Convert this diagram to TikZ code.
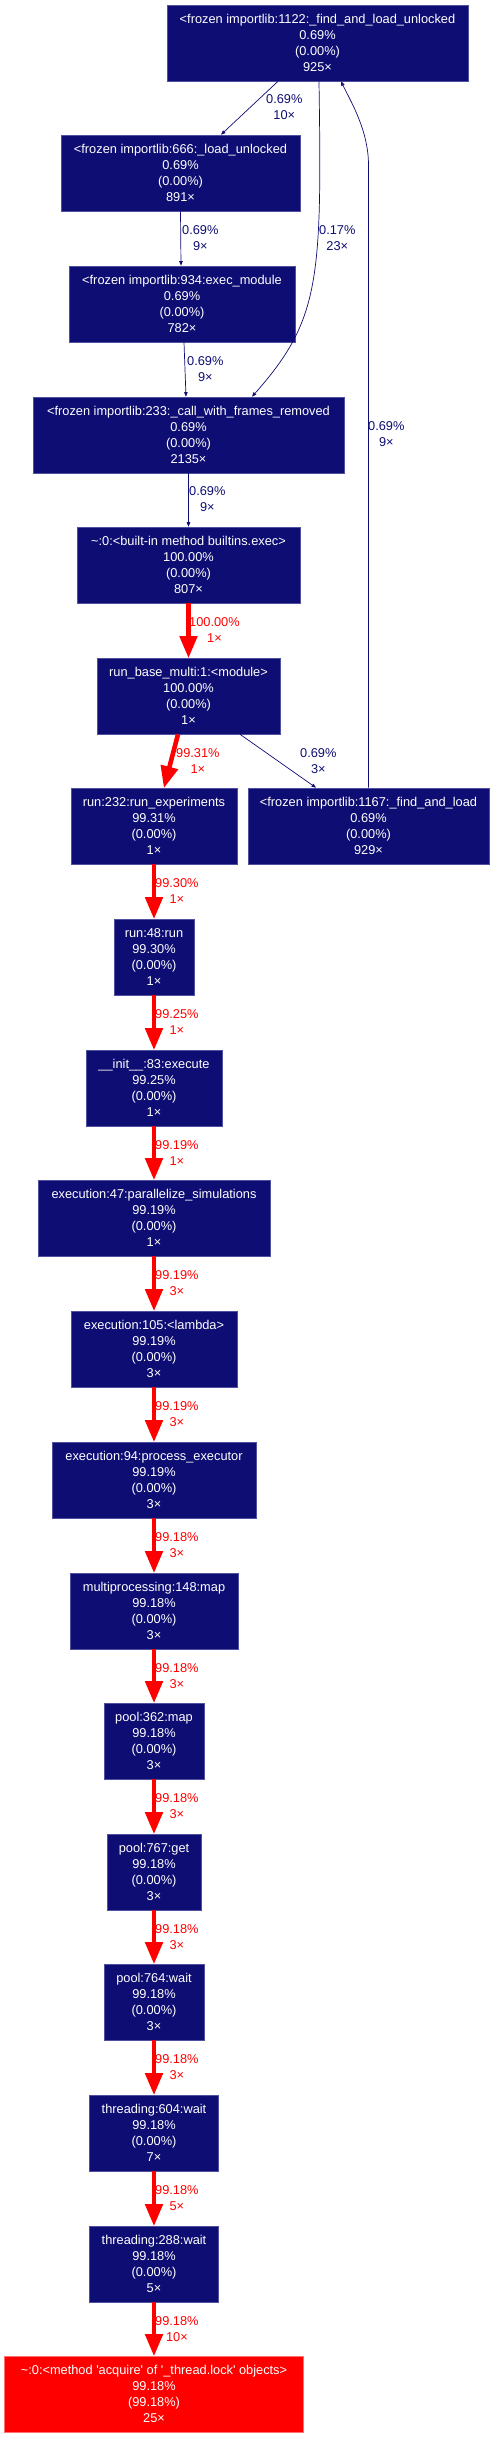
\documentclass[tikz,border=0pt]{standalone}
\usepackage{fontspec}
\setmainfont{Liberation Sans}[Ligatures=TeXOff]
\usetikzlibrary{arrows.meta,calc}
\definecolor{cold}{HTML}{0D0D73}
\definecolor{coldline}{HTML}{5050A0}
\definecolor{hot}{HTML}{FF0000}
\definecolor{hotline}{HTML}{FF7070}
\begin{document}
\begin{tikzpicture}[x=1pt,y=-1pt,
  fn/.style={rectangle, fill=cold, draw=coldline, line width=0.6pt, text=white,
    align=center, inner sep=0pt, minimum height=76pt,
    font=\fontsize{12.8}{16}\selectfont},
  hotfn/.style={fn, fill=hot, draw=hotline},
  coldedge/.style={draw=cold, line width=0.7pt, -{Triangle[length=4.5pt,width=3.5pt]}},
  hotedge/.style={draw=hot, line width=4.6pt, -{Triangle[length=22pt,width=17pt]}, shorten >=-0.5pt},
  lbl/.style={anchor=west, inner sep=0pt, align=center, font=\fontsize{12.8}{16}\selectfont},
  clbl/.style={lbl, text=cold},
  hlbl/.style={lbl, text=hot}]
\useasboundingbox (0,0) rectangle (494,2437);

\node[fn, minimum width=301pt] (n1122) at (317.5,43) {<frozen importlib:1122:\_find\_and\_load\_unlocked\\0.69\%\\(0.00\%)\\925×};
\node[fn, minimum width=239pt] (n666) at (180.5,173) {<frozen importlib:666:\_load\_unlocked\\0.69\%\\(0.00\%)\\891×};
\node[fn, minimum width=226pt] (n934) at (182,304) {<frozen importlib:934:exec\_module\\0.69\%\\(0.00\%)\\782×};
\node[fn, minimum width=311pt] (n233) at (188.5,435) {<frozen importlib:233:\_call\_with\_frames\_removed\\0.69\%\\(0.00\%)\\2135×};
\node[fn, minimum width=223pt] (nexec) at (188.5,565) {\textasciitilde:0:<built-in method builtins.exec>\\100.00\%\\(0.00\%)\\807×};
\node[fn, minimum width=183pt] (nbase) at (188.5,696) {run\_base\_multi:1:<module>\\100.00\%\\(0.00\%)\\1×};
\node[fn, minimum width=166pt] (nrunexp) at (154,826) {run:232:run\_experiments\\99.31\%\\(0.00\%)\\1×};
\node[fn, minimum width=241pt] (n1167) at (368.5,826) {<frozen importlib:1167:\_find\_and\_load\\0.69\%\\(0.00\%)\\929×};
\node[fn, minimum width=80pt] (nrun48) at (154,957) {run:48:run\\99.30\%\\(0.00\%)\\1×};
\node[fn, minimum width=136pt] (ninit) at (154,1088) {\_\_init\_\_:83:execute\\99.25\%\\(0.00\%)\\1×};
\node[fn, minimum width=232pt] (nex47) at (154,1218) {execution:47:parallelize\_simulations\\99.19\%\\(0.00\%)\\1×};
\node[fn, minimum width=166pt] (nlam) at (154,1349) {execution:105:<lambda>\\99.19\%\\(0.00\%)\\3×};
\node[fn, minimum width=204pt] (nex94) at (154,1480) {execution:94:process\_executor\\99.19\%\\(0.00\%)\\3×};
\node[fn, minimum width=168pt] (nmp) at (154,1611) {multiprocessing:148:map\\99.18\%\\(0.00\%)\\3×};
\node[fn, minimum width=100pt] (np362) at (154,1741) {pool:362:map\\99.18\%\\(0.00\%)\\3×};
\node[fn, minimum width=94pt] (np767) at (154,1872) {pool:767:get\\99.18\%\\(0.00\%)\\3×};
\node[fn, minimum width=100pt] (np764) at (154,2002) {pool:764:wait\\99.18\%\\(0.00\%)\\3×};
\node[fn, minimum width=129pt] (nt604) at (154,2133) {threading:604:wait\\99.18\%\\(0.00\%)\\7×};
\node[fn, minimum width=129pt] (nt288) at (154,2264) {threading:288:wait\\99.18\%\\(0.00\%)\\5×};
\node[hotfn, minimum width=299pt] (nfinal) at (154,2394) {\textasciitilde:0:<method 'acquire' of '\_thread.lock' objects>\\99.18\%\\(99.18\%)\\25×};

% cold edges
\draw[coldedge] ([xshift=-39.5pt]n1122.south) -- ([xshift=40.5pt]n666.north);
\node[clbl] (l1) at (266,107) {0.69\%\\10×};
\draw[coldedge] (n666.south) -- ([xshift=-1pt]n934.north);
\node[clbl] (l2) at (182,238.5) {0.69\%\\9×};
\draw[coldedge] ([xshift=2pt]n934.south) -- ([xshift=-2.5pt]n233.north);
\node[clbl] (l3) at (187,369) {0.69\%\\9×};
\draw[coldedge] ([xshift=1.5pt]n1122.south) .. controls (322,280) and (320,320) .. ([xshift=63.5pt]n233.north);
\node[clbl] (l4) at (319,238.5) {0.17\%\\23×};
\draw[coldedge] (n233.south) -- (nexec.north);
\node[clbl] (l5) at (189,499.5) {0.69\%\\9×};
\draw[coldedge] ([xshift=51.5pt]nbase.south) -- ([xshift=-52.5pt]n1167.north);
\node[clbl] (l6) at (300,761) {0.69\%\\3×};
\coordinate (c1167) at (368.5,165);
\draw[coldedge] (n1167.north) -- (c1167) .. controls (368.5,130) and (350,100) .. ([xshift=23.5pt]n1122.south);
\node[clbl] (l7) at (368,434.5) {0.69\%\\9×};

% hot edges
\draw[hotedge] (nexec.south) -- (nbase.north);
\node[hlbl] (h1) at (189,630) {100.00\%\\1×};
\draw[hotedge] ([xshift=-10.5pt]nbase.south) -- ([xshift=10pt]nrunexp.north);
\node[hlbl] (h2) at (176,761) {99.31\%\\1×};
\draw[hotedge] (nrunexp.south) -- (nrun48.north);
\node[hlbl] (h3) at (155,891.5) {99.30\%\\1×};
\draw[hotedge] (nrun48.south) -- (ninit.north);
\node[hlbl] (h4) at (155,1022.5) {99.25\%\\1×};
\draw[hotedge] (ninit.south) -- (nex47.north);
\node[hlbl] (h5) at (155,1153) {99.19\%\\1×};
\draw[hotedge] (nex47.south) -- (nlam.north);
\node[hlbl] (h6) at (155,1283.5) {99.19\%\\3×};
\draw[hotedge] (nlam.south) -- (nex94.north);
\node[hlbl] (h7) at (155,1414.5) {99.19\%\\3×};
\draw[hotedge] (nex94.south) -- (nmp.north);
\node[hlbl] (h8) at (155,1545.5) {99.18\%\\3×};
\draw[hotedge] (nmp.south) -- (np362.north);
\node[hlbl] (h9) at (155,1676) {99.18\%\\3×};
\draw[hotedge] (np362.south) -- (np767.north);
\node[hlbl] (h10) at (155,1806.5) {99.18\%\\3×};
\draw[hotedge] (np767.south) -- (np764.north);
\node[hlbl] (h11) at (155,1937) {99.18\%\\3×};
\draw[hotedge] (np764.south) -- (nt604.north);
\node[hlbl] (h12) at (155,2067.5) {99.18\%\\3×};
\draw[hotedge] (nt604.south) -- (nt288.north);
\node[hlbl] (h13) at (155,2198.5) {99.18\%\\5×};
\draw[hotedge] (nt288.south) -- (nfinal.north);
\node[hlbl] (h14) at (155,2329) {99.18\%\\10×};
\end{tikzpicture}
\end{document}
